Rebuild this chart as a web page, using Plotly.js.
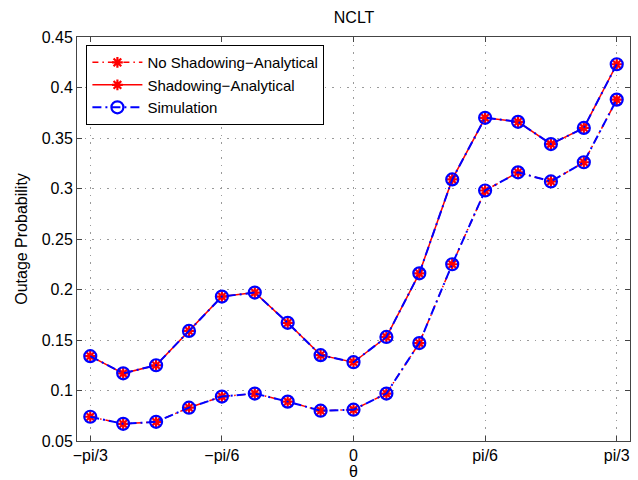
<!DOCTYPE html>
<html>
<head>
<meta charset="utf-8">
<script src="https://cdn.plot.ly/plotly-3.0.1.min.js"></script>
<style>
  html, body { margin: 0; padding: 0; background: #fff; }
  #plot { width: 638px; height: 480px; }
</style>
</head>
<body>
<div id="plot"></div>
<script>
// Angle samples: -pi/3 .. pi/3 in steps of pi/24
const thetaSteps = [-8, -7, -6, -5, -4, -3, -2, -1, 0, 1, 2, 3, 4, 5, 6, 7, 8];
const theta = thetaSteps.map(k => k * Math.PI / 24);

// Outage probability, no shadowing (analytical and simulated)
const noShadowAnalytical = [0.074, 0.067, 0.069, 0.083, 0.094, 0.097, 0.089, 0.080, 0.081, 0.097, 0.147, 0.225, 0.298, 0.316, 0.307, 0.326, 0.388];
const noShadowSimulation = [0.074, 0.067, 0.069, 0.083, 0.094, 0.097, 0.089, 0.080, 0.081, 0.097, 0.147, 0.225, 0.298, 0.316, 0.307, 0.326, 0.388];

// Outage probability, with shadowing (analytical and simulated)
const shadowAnalytical = [0.134, 0.117, 0.125, 0.159, 0.193, 0.197, 0.167, 0.135, 0.128, 0.153, 0.216, 0.309, 0.370, 0.366, 0.344, 0.360, 0.423];
const shadowSimulation = [0.134, 0.117, 0.125, 0.159, 0.193, 0.197, 0.167, 0.135, 0.128, 0.153, 0.216, 0.309, 0.370, 0.366, 0.344, 0.360, 0.423];

const tickVals = [-Math.PI / 3, -Math.PI / 6, 0, Math.PI / 6, Math.PI / 3];
const tickText = ['\u2212pi/3', '\u2212pi/6', '0', 'pi/6', 'pi/3'];
const yTicks = [0.05, 0.1, 0.15, 0.2, 0.25, 0.3, 0.35, 0.4, 0.45];
const yTickText = ['0.05', '0.1', '0.15', '0.2', '0.25', '0.3', '0.35', '0.4', '0.45'];

const RED = '#ff0000';
const BLUE = '#0000ff';
const redDashDot = '6px,4px,1.5px,4px';
const blueDashDot = '9px,4px,2px,4px';

const redStar = { symbol: 'asterisk-open', size: 9, color: RED, line: { color: RED, width: 2.2 } };
const blueRing = { symbol: 'circle-open', size: 12, color: BLUE, line: { color: BLUE, width: 2.2 } };

const traces = [
  {
    x: theta, y: noShadowAnalytical, name: 'No Shadowing\u2212Analytical',
    mode: 'lines+markers', line: { color: RED, width: 1.5, dash: redDashDot }, marker: redStar
  },
  {
    x: theta, y: shadowAnalytical, name: 'Shadowing\u2212Analytical',
    mode: 'lines+markers', line: { color: RED, width: 1.5 }, marker: redStar
  },
  {
    x: theta, y: noShadowSimulation, name: 'Simulation',
    mode: 'lines+markers', line: { color: BLUE, width: 2, dash: blueDashDot }, marker: blueRing
  },
  {
    x: theta, y: shadowSimulation, name: 'Simulation', showlegend: false,
    mode: 'lines+markers', line: { color: BLUE, width: 2, dash: blueDashDot }, marker: blueRing
  }
];

const axisCommon = {
  showline: true, linecolor: '#444', linewidth: 1, mirror: 'ticks',
  ticks: 'inside', ticklen: 5, tickcolor: '#444',
  showgrid: true, gridcolor: '#9a9a9a', griddash: '1.5px,6px', gridwidth: 1,
  zeroline: false, tickfont: { size: 16, color: '#000' }
};

const layout = {
  width: 638, height: 480,
  margin: { l: 77, r: 8, t: 37, b: 39 },
  paper_bgcolor: '#fff', plot_bgcolor: '#fff',
  font: { family: '"Liberation Sans", Arial, Helvetica, sans-serif', size: 16, color: '#000' },
  title: { text: 'NCLT', x: 0.555, xanchor: 'center', y: 0.963, yanchor: 'middle', font: { size: 16 } },
  xaxis: Object.assign({}, axisCommon, {
    range: [-1.1, 1.1], tickvals: tickVals, ticktext: tickText,
    title: { text: '\u03b8', font: { size: 16 }, standoff: 4 }
  }),
  yaxis: Object.assign({}, axisCommon, {
    range: [0.05, 0.45], tickvals: yTicks, ticktext: yTickText,
    title: { text: 'Outage Probability', font: { size: 16 }, standoff: 10 }
  }),
  legend: {
    x: 0.017, y: 0.98, xanchor: 'left', yanchor: 'top',
    bgcolor: '#fff', bordercolor: '#000', borderwidth: 1,
    font: { size: 15 }, tracegroupgap: 0, itemwidth: 50
  },
  showlegend: true
};

Plotly.newPlot('plot', traces, layout, { displayModeBar: false, staticPlot: true });
</script>
</body>
</html>
